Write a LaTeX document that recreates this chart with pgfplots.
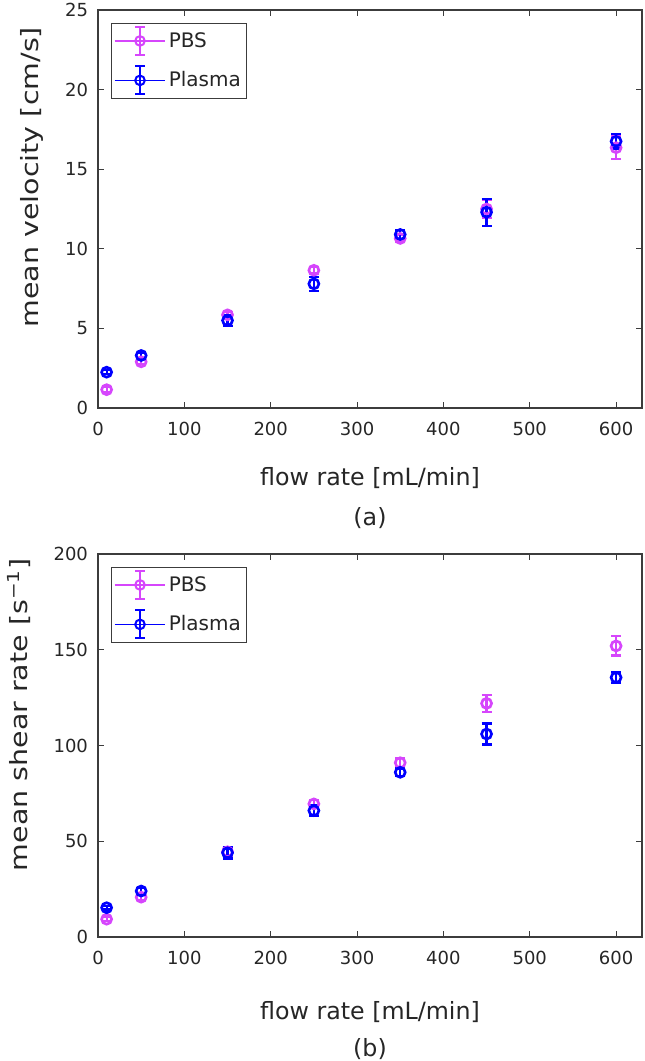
\documentclass[border=0pt]{standalone}
\usepackage{fontspec}
\setmainfont{DejaVu Sans}
\usepackage{graphicx}
\usepackage{pgfplots}
\usepackage{pgfplotstable}
\pgfplotsset{compat=1.18}
\definecolor{pbs}{RGB}{214,70,252}
\definecolor{pla}{RGB}{0,0,255}
\definecolor{axc}{RGB}{60,60,60}

\pgfplotstableread{
x y e
10 1.15 0.15
50 2.9 0.15
150 5.85 0.2
250 8.65 0.2
350 10.65 0.2
450 12.5 0.55
600 16.35 0.7
}\velpbs
\pgfplotstableread{
x y e
10 2.25 0.12
50 3.3 0.15
150 5.5 0.35
250 7.8 0.45
350 10.9 0.3
450 12.3 0.85
600 16.75 0.45
}\velpla
\pgfplotstableread{
x y e
10 9.3 1
50 20.8 1.5
150 44.5 2
250 69.5 2
350 91 2.5
450 122 4.5
600 152 5
}\shpbs
\pgfplotstableread{
x y e
10 15.3 1
50 24 1.5
150 44 3
250 66 3
350 86 2
450 106 5.5
600 135.5 3
}\shpla

\pgfplotsset{
  /pgf/number format/assume math mode=true,
  myax/.style={
    scale only axis,
    width=408pt,
    xmin=0, xmax=630,
    xtick={0,100,...,600},
    tick align=inside,
    xtick pos=both, ytick pos=both,
    major tick length=4.5pt,
    axis line style={axc, line width=0.8pt},
    every tick/.style={axc, line width=0.8pt},
    ticklabel style={font=\fontsize{13.5pt}{16pt}\selectfont, text=black!85},
    xticklabel style={yshift=-7pt},
    yticklabel style={xshift=-4pt},
    label style={font=\fontsize{17.8pt}{21pt}\selectfont, text=black!85},
    clip=false,
    legend cell align=left,
    legend style={at={(axis description cs:0,1)}, anchor=north west,
      xshift=9.5pt, yshift=-9.5pt, draw=axc, line width=0.8pt,
      font=\fontsize{15pt}{18pt}\selectfont, text=black!85,
      inner xsep=2pt, inner ysep=2pt, row sep=7pt},
  },
  ebar/.style={only marks, mark=o, mark size=3.75pt, line width=1.7pt, color=#1,
    mark options={line width=2pt, #1},
    error bars/.cd, y dir=both, y explicit,
    error bar style={line width=1.7pt, #1},
    error mark options={rotate=90, line width=1.7pt, mark size=3.75pt, #1}},
  leg/.style={legend image code/.code={
    \draw[#1, line width=1.2pt] (0pt,0pt) -- (38pt,0pt);
    \draw[#1, line width=1.6pt] (19pt,-10.5pt) -- (19pt,10.5pt)
      (15.5pt,-10.5pt) -- (22.5pt,-10.5pt) (15.5pt,10.5pt) -- (22.5pt,10.5pt);
    \draw[#1, line width=1.5pt] (19pt,0pt) circle (3.6pt);
  }},
}

\begin{document}
\begin{tikzpicture}
\useasboundingbox (0,0) rectangle (483.75pt,795.75pt);
\begin{axis}[myax,
  at={(73.5pt,489.75pt)}, anchor=south west,
  height=298.5pt,
  ymin=0, ymax=25, ytick={0,5,...,25},
  xlabel={flow rate [mL/min]},
  xlabel style={at={(axis description cs:0.5,-0.176)}, anchor=center},
  ylabel={\scalebox{1.2}[1]{mean velocity [cm/s]}},
  ylabel style={at={(axis description cs:-0.121,0.58)}, anchor=center},
]
\addlegendimage{leg=pbs}
\addlegendentry{PBS}
\addlegendimage{leg=pla}
\addlegendentry{Plasma}
\addplot[ebar=pbs] table[x=x, y=y, y error=e] {\velpbs};
\addplot[ebar=pla] table[x=x, y=y, y error=e] {\velpla};
\node[font=\fontsize{17.8pt}{21pt}\selectfont, text=black!85] at (axis description cs:0.5,-0.276) {(a)};
\end{axis}

\begin{axis}[myax,
  at={(73.5pt,93pt)}, anchor=south west,
  height=287.25pt,
  ymin=0, ymax=200, ytick={0,50,...,200},
  xlabel={flow rate [mL/min]},
  xlabel style={at={(axis description cs:0.5,-0.195)}, anchor=center},
  ylabel={\scalebox{1.2}[1]{mean shear rate [s\textsuperscript{−1}]}},
  ylabel style={at={(axis description cs:-0.145,0.58)}, anchor=center},
]
\addlegendimage{leg=pbs}
\addlegendentry{PBS}
\addlegendimage{leg=pla}
\addlegendentry{Plasma}
\addplot[ebar=pbs] table[x=x, y=y, y error=e] {\shpbs};
\addplot[ebar=pla] table[x=x, y=y, y error=e] {\shpla};
\node[font=\fontsize{17.8pt}{21pt}\selectfont, text=black!85] at (axis description cs:0.5,-0.292) {(b)};
\end{axis}
\end{tikzpicture}
\end{document}
